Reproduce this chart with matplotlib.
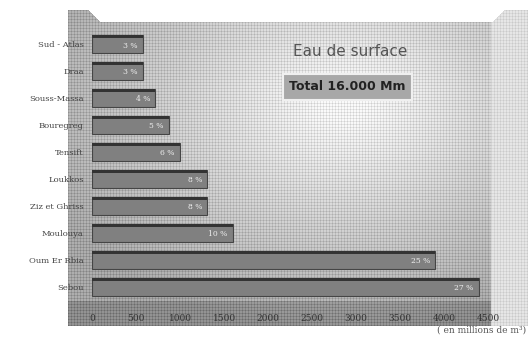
import matplotlib.pyplot as plt
import numpy as np

basins = ["Sebou", "Oum Er Rbia", "Moulouya", "Ziz et Ghriss", "Loukkos",
          "Tensift", "Bouregreg", "Souss-Massa", "Draa", "Sud - Atlas"]
volumes = [4390, 3900, 1600, 1310, 1310, 1000, 870, 720, 580, 580]
pct_labels = ["27 %", "25 %", "10 %", "8 %", "8 %", "6 %", "5 %", "4 %", "3 %", "3 %"]
xticks = [0, 500, 1000, 1500, 2000, 2500, 3000, 3500, 4000, 4500]

W, H = 528, 339
fig = plt.figure(figsize=(W / 100, H / 100), dpi=100)
fig.patch.set_facecolor("white")

def fx(px):
    return px / W

def fy(py):
    return 1 - py / H

# textured back wall (cross-hatched grey, lighter in the middle)
bg = fig.add_axes([fx(68), fy(326), fx(528 - 68), (326 - 10) / H])
bg.set_axis_off()
h, w = 316, 460
yy, xx = np.mgrid[0:h, 0:w]
cx, cy = 0.6 * w, 0.3 * h
r = np.sqrt(((xx - cx) / w) ** 2 + ((yy - cy) / h) ** 2)
tex = np.clip(1.0 - 0.45 * r, 0.68, 0.98)
tex = tex - 0.08 * ((xx % 3) == 0) - 0.08 * ((yy % 3) == 0)
# right side wall lighter
side = xx > 422
tex[side] = 0.9 - 0.06 * ((xx[side] % 3) == 0) - 0.05 * ((yy[side] % 3) == 0)
# floor band darker
floor = (yy > 290) & ~side
tex[floor] = tex[floor] - 0.1
# bevelled top corners
tex[(yy < 12) & (xx > 32) & (xx < 422)] = 1.0
tex[(yy < 12) & (xx <= 32) & (yy < (xx - 20))] = 1.0
tex[(yy < 12) & (xx >= 422) & (yy < (436 - xx))] = 1.0
bg.imshow(np.clip(tex, 0, 1), cmap="gray", vmin=0, vmax=1,
          interpolation="bilinear", aspect="auto")

# main bar axes
ax = fig.add_axes([fx(92), fy(311), fx(497 - 92), (311 - 28) / H])
ax.patch.set_alpha(0)
for s in ax.spines.values():
    s.set_visible(False)
ypos = np.arange(len(basins))
ax.barh(ypos, volumes, height=0.68, color="#808080", edgecolor="#454545",
        linewidth=0.8, zorder=3)
ax.barh(ypos + 0.28, volumes, height=0.1, color="#333333", linewidth=0, zorder=4)
for y, v, t in zip(ypos, volumes, pct_labels):
    ax.text(v - 60, y - 0.05, t, ha="right", va="center", fontsize=5.5,
            color="#eeeeee", family="DejaVu Serif", zorder=5)
ax.set_xlim(0, 4600)
ax.set_ylim(-0.9, 9.6)
ax.set_yticks(ypos)
ax.set_yticklabels(basins, family="DejaVu Serif", fontsize=6, color="#444444")
ax.set_xticks(xticks)
ax.set_xticklabels([str(t) for t in xticks], family="DejaVu Serif", fontsize=6.5,
                   color="#333333")
ax.tick_params(axis="both", length=0)
ax.tick_params(axis="x", pad=2)
ax.tick_params(axis="y", pad=6)

fig.text(fx(350), fy(52), "Eau de surface", ha="center", va="center",
         fontsize=11, color="#555555", family="DejaVu Sans")
fig.text(fx(347), fy(87), "Total 16.000 Mm", ha="center", va="center",
         fontsize=9, fontweight="bold", color="#222222", family="DejaVu Sans",
         bbox=dict(boxstyle="square,pad=0.5", facecolor="#a8a8a8",
                   edgecolor="#f0f0f0", linewidth=1.5))
fig.text(fx(526), fy(330), "( en millions de m³)", ha="right", va="center",
         fontsize=6.5, color="#555555", family="DejaVu Serif")

fig.savefig("out.png", dpi=100)
